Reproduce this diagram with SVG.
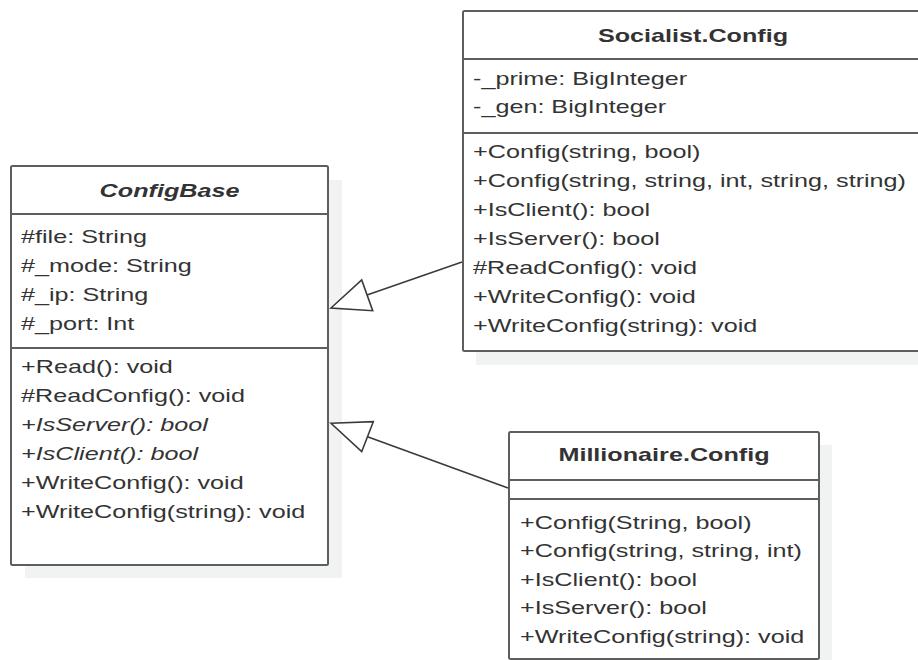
<svg xmlns="http://www.w3.org/2000/svg" width="918" height="660" viewBox="0 0 918 660">
<style>
.box{fill:#ffffff;stroke:#5e5e5e;stroke-width:2}
.sh{fill:#f1f2f2}
.div{stroke:#5e5e5e;stroke-width:2}
text{font-family:"Liberation Sans",Arial,sans-serif;font-size:18px;fill:#333333}
.hd{font-weight:bold;text-anchor:middle}
.it{font-style:italic}
.edge{stroke:#3a3a3a;stroke-width:1.6;fill:none}
.tri{stroke:#3a3a3a;stroke-width:1.6;fill:#ffffff}
</style>
<rect width="918" height="660" fill="#ffffff"/>
<g id="ConfigBase">
<rect class="sh" x="25" y="180" width="317" height="398"/>
<rect class="box" x="11" y="166" width="317" height="399" rx="1.5"/>
<line class="div" x1="11" y1="214" x2="328" y2="214"/>
<line class="div" x1="11" y1="348" x2="328" y2="348"/>
<g transform="translate(169.5 0) scale(1.4 1)"><text class="hd it" x="0" y="197">ConfigBase</text></g>
<g transform="translate(21 0) scale(1.4 1)">
<text x="0" y="243">#file: String</text>
<text x="0" y="272">#_mode: String</text>
<text x="0" y="301">#_ip: String</text>
<text x="0" y="330">#_port: Int</text>
<text x="0" y="373">+Read(): void</text>
<text x="0" y="402">#ReadConfig(): void</text>
<text class="it" x="0" y="431">+IsServer(): bool</text>
<text class="it" x="0" y="460">+IsClient(): bool</text>
<text x="0" y="489">+WriteConfig(): void</text>
<text x="0" y="518">+WriteConfig(string): void</text>
</g>
</g>
<g id="SocialistConfig">
<rect class="sh" x="476" y="25" width="460" height="340"/>
<rect class="box" x="463" y="11" width="460" height="340" rx="1.5"/>
<line class="div" x1="463" y1="59" x2="923" y2="59"/>
<line class="div" x1="463" y1="133" x2="923" y2="133"/>
<g transform="translate(693 0) scale(1.4 1)"><text class="hd" x="0" y="42">Socialist.Config</text></g>
<g transform="translate(473 0) scale(1.4 1)">
<text x="0" y="85">-_prime: BigInteger</text>
<text x="0" y="113">-_gen: BigInteger</text>
<text x="0" y="158">+Config(string, bool)</text>
<text x="0" y="187">+Config(string, string, int, string, string)</text>
<text x="0" y="216">+IsClient(): bool</text>
<text x="0" y="245">+IsServer(): bool</text>
<text x="0" y="274">#ReadConfig(): void</text>
<text x="0" y="303">+WriteConfig(): void</text>
<text x="0" y="332">+WriteConfig(string): void</text>
</g>
</g>
<g id="MillionaireConfig">
<rect class="sh" x="522" y="445" width="310" height="230"/>
<rect class="box" x="509" y="432" width="310" height="227" rx="1.5"/>
<line class="div" x1="509" y1="480" x2="819" y2="480"/>
<line class="div" x1="509" y1="499" x2="819" y2="499"/>
<g transform="translate(664 0) scale(1.4 1)"><text class="hd" x="0" y="461">Millionaire.Config</text></g>
<g transform="translate(520 0) scale(1.4 1)">
<text x="0" y="529">+Config(String, bool)</text>
<text x="0" y="557.5">+Config(string, string, int)</text>
<text x="0" y="586">+IsClient(): bool</text>
<text x="0" y="614.5">+IsServer(): bool</text>
<text x="0" y="643">+WriteConfig(string): void</text>
</g>
</g>
<g id="connectors">
<line class="edge" x1="462" y1="262" x2="367" y2="295"/>
<polygon class="tri" points="331,308 361.7,280 372.7,310.7"/>
<line class="edge" x1="508" y1="488" x2="367.5" y2="436.7"/>
<polygon class="tri" points="331,423.3 373.3,421.7 361.7,451.7"/>
</g>
</svg>
